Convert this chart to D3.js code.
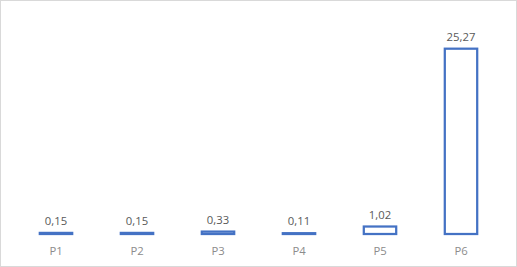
<!DOCTYPE html>
<html>
<head>
<meta charset="utf-8">
<script src="https://cdn.jsdelivr.net/npm/d3@7"></script>
<style>
  html, body { margin: 0; padding: 0; background: #fff; }
  svg { display: block; }
</style>
</head>
<body>
<svg id="chart" width="517" height="267"></svg>
<script>
// Category names, values and label text
const categories = ["P1", "P2", "P3", "P4", "P5", "P6"];
const values = [0.15, 0.15, 0.33, 0.11, 1.02, 25.27];
const yDomain = [0, 30];

const W = 517, H = 267;
const svg = d3.select("#chart");
const fmt = v => d3.format(".2f")(v).replace(".", ",");
const font = "'Open Sans', Lato, sans-serif";

// chart frame
svg.append("rect")
  .attr("x", 0.5).attr("y", 0.5)
  .attr("width", W - 1).attr("height", H - 1)
  .attr("fill", "#fff")
  .attr("stroke", "#d9d9d9")
  .attr("stroke-width", 1);

const x = d3.scaleBand()
  .domain(categories)
  .range([15.5, 501.5])
  .paddingInner(0.6)
  .paddingOuter(0.3);

const y = d3.scaleLinear().domain(yDomain).range([234, 14]);

const data = categories.map((c, i) => ({ c, v: values[i] }));
const sw = 2.25;

// hollow bars, outline centred on the bar edges
svg.append("g").selectAll("rect")
  .data(data)
  .join("rect")
  .attr("x", d => x(d.c))
  .attr("width", x.bandwidth())
  .attr("y", d => y(d.v))
  .attr("height", d => y(0) - y(d.v))
  .attr("fill", "#fff")
  .attr("stroke", "#4472c4")
  .attr("stroke-width", sw);

// value labels
svg.append("g").selectAll("text")
  .data(data)
  .join("text")
  .attr("x", d => x(d.c) + x.bandwidth() / 2)
  .attr("y", d => y(d.v) - 8)
  .attr("text-anchor", "middle")
  .attr("font-family", font)
  .attr("font-size", 11.3)
  .attr("fill", "#595959")
  .text(d => fmt(d.v));

// category axis labels
const xAxis = d3.axisBottom(x).tickSize(0).tickPadding(0);
const gx = svg.append("g").attr("transform", "translate(0,255)").call(xAxis);
gx.select(".domain").remove();
gx.selectAll("text")
  .attr("dy", "0")
  .attr("y", 0)
  .attr("font-family", font)
  .attr("font-size", 11.3)
  .attr("fill", "#8c8c8c");
</script>
</body>
</html>
